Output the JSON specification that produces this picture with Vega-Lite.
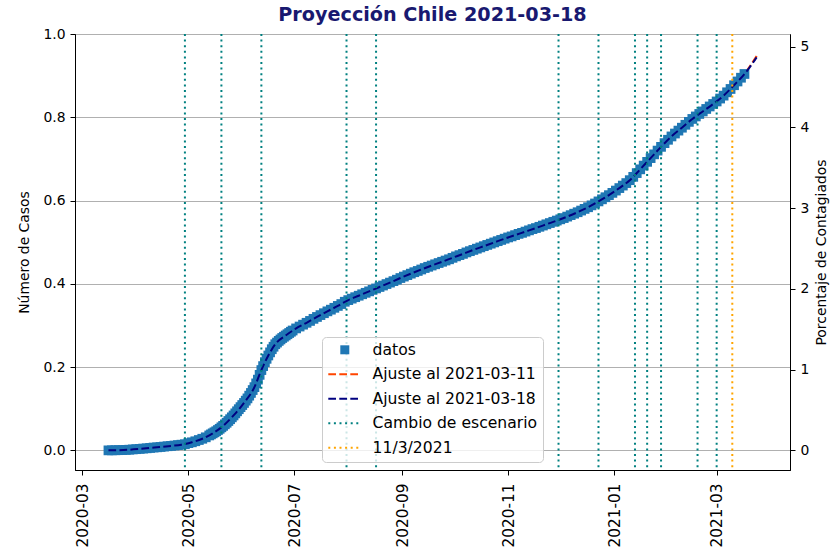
{
  "$schema": "https://vega.github.io/schema/vega-lite/v6.json",
  "width": 715,
  "height": 436,
  "autosize": {"type": "none"},
  "padding": {"left": 75, "top": 34, "right": 41, "bottom": 85},
  "title": {"text": "Proyección Chile 2021-03-18", "fontSize": 19.2, "fontWeight": "bold", "color": "#191970", "font": "DejaVu Sans", "anchor": "middle", "frame": "group", "baseline": "alphabetic", "offset": -13},
  "config": {
    "font": "DejaVu Sans",
    "view": {"stroke": "black", "strokeWidth": 1},
    "axis": {"labelFontSize": 13.9, "titleFontSize": 13.9, "labelColor": "black", "titleColor": "black", "tickColor": "black", "domainColor": "black", "tickSize": 5, "labelPadding": 5, "titleFontWeight": "normal", "labelFont": "DejaVu Sans", "titleFont": "DejaVu Sans", "domainWidth": 1, "tickWidth": 1}
  },
  "datasets": {
    "datos": [
      {"f":"2020-03-16","c":160},{"f":"2020-03-18","c":240},{"f":"2020-03-20","c":430},{"f":"2020-03-22","c":630},{"f":"2020-03-24","c":920},{"f":"2020-03-26","c":1310},{"f":"2020-03-28","c":1730},{"f":"2020-03-30","c":2450},
      {"f":"2020-04-01","c":3030},{"f":"2020-04-03","c":3740},{"f":"2020-04-05","c":4470},{"f":"2020-04-07","c":5120},{"f":"2020-04-09","c":5970},{"f":"2020-04-11","c":6930},{"f":"2020-04-13","c":7530},{"f":"2020-04-15","c":8270},{"f":"2020-04-17","c":9250},{"f":"2020-04-19","c":10090},{"f":"2020-04-21","c":10830},{"f":"2020-04-23","c":11810},{"f":"2020-04-25","c":12860},{"f":"2020-04-27","c":13810},{"f":"2020-04-29","c":14890},
      {"f":"2020-05-01","c":17500},{"f":"2020-05-03","c":19500},{"f":"2020-05-05","c":22000},{"f":"2020-05-07","c":25000},{"f":"2020-05-09","c":28000},{"f":"2020-05-11","c":31500},{"f":"2020-05-13","c":36000},{"f":"2020-05-14","c":38500},{"f":"2020-05-15","c":41000},{"f":"2020-05-16","c":43500},{"f":"2020-05-17","c":46000},{"f":"2020-05-18","c":49000},{"f":"2020-05-19","c":52000},{"f":"2020-05-20","c":55500},{"f":"2020-05-21","c":59000},{"f":"2020-05-22","c":62700},{"f":"2020-05-23","c":66500},{"f":"2020-05-24","c":70700},{"f":"2020-05-25","c":75000},{"f":"2020-05-26","c":79500},{"f":"2020-05-27","c":84000},{"f":"2020-05-28","c":89000},{"f":"2020-05-29","c":94000},{"f":"2020-05-30","c":99000},{"f":"2020-05-31","c":104000},
      {"f":"2020-06-01","c":109000},{"f":"2020-06-02","c":114000},{"f":"2020-06-03","c":119500},{"f":"2020-06-04","c":125000},{"f":"2020-06-05","c":131500},{"f":"2020-06-06","c":138000},{"f":"2020-06-07","c":145000},{"f":"2020-06-08","c":152000},{"f":"2020-06-09","c":161000},{"f":"2020-06-10","c":170000},{"f":"2020-06-11","c":181500},{"f":"2020-06-12","c":193000},{"f":"2020-06-13","c":202500},{"f":"2020-06-14","c":212000},{"f":"2020-06-15","c":220000},{"f":"2020-06-16","c":228000},{"f":"2020-06-17","c":235500},{"f":"2020-06-18","c":243000},{"f":"2020-06-19","c":249000},{"f":"2020-06-20","c":255000},{"f":"2020-06-21","c":259000},{"f":"2020-06-22","c":263000},{"f":"2020-06-23","c":266500},{"f":"2020-06-24","c":270000},{"f":"2020-06-25","c":273000},{"f":"2020-06-26","c":276000},{"f":"2020-06-27","c":279000},{"f":"2020-06-28","c":282000},{"f":"2020-06-29","c":285000},{"f":"2020-06-30","c":288000},
      {"f":"2020-07-02","c":293000},{"f":"2020-07-04","c":297500},{"f":"2020-07-06","c":302000},{"f":"2020-07-08","c":306500},{"f":"2020-07-10","c":311000},{"f":"2020-07-12","c":316000},{"f":"2020-07-14","c":320500},{"f":"2020-07-16","c":325000},{"f":"2020-07-18","c":329500},{"f":"2020-07-20","c":334000},{"f":"2020-07-22","c":338000},{"f":"2020-07-24","c":342500},{"f":"2020-07-26","c":347000},{"f":"2020-07-28","c":351500},{"f":"2020-07-30","c":357000},
      {"f":"2020-08-01","c":361000},{"f":"2020-08-03","c":364500},{"f":"2020-08-05","c":368000},{"f":"2020-08-07","c":371500},{"f":"2020-08-09","c":375000},{"f":"2020-08-11","c":378500},{"f":"2020-08-13","c":382000},{"f":"2020-08-15","c":385500},{"f":"2020-08-17","c":389000},{"f":"2020-08-19","c":392500},{"f":"2020-08-21","c":396000},{"f":"2020-08-23","c":399500},{"f":"2020-08-25","c":403000},{"f":"2020-08-27","c":406500},{"f":"2020-08-29","c":410000},{"f":"2020-08-31","c":414000},
      {"f":"2020-09-02","c":417500},{"f":"2020-09-04","c":421000},{"f":"2020-09-06","c":424500},{"f":"2020-09-08","c":428000},{"f":"2020-09-10","c":431000},{"f":"2020-09-12","c":434500},{"f":"2020-09-14","c":438000},{"f":"2020-09-16","c":441000},{"f":"2020-09-18","c":444000},{"f":"2020-09-20","c":447000},{"f":"2020-09-22","c":450000},{"f":"2020-09-24","c":453000},{"f":"2020-09-26","c":456000},{"f":"2020-09-28","c":459000},{"f":"2020-09-30","c":462500},
      {"f":"2020-10-02","c":466000},{"f":"2020-10-04","c":469000},{"f":"2020-10-06","c":472000},{"f":"2020-10-08","c":475500},{"f":"2020-10-10","c":478500},{"f":"2020-10-12","c":481500},{"f":"2020-10-14","c":484500},{"f":"2020-10-16","c":487500},{"f":"2020-10-18","c":490500},{"f":"2020-10-20","c":493500},{"f":"2020-10-22","c":496500},{"f":"2020-10-24","c":499500},{"f":"2020-10-26","c":502500},{"f":"2020-10-28","c":505500},{"f":"2020-10-30","c":508500},
      {"f":"2020-11-01","c":511500},{"f":"2020-11-03","c":514000},{"f":"2020-11-05","c":517000},{"f":"2020-11-07","c":520000},{"f":"2020-11-09","c":522500},{"f":"2020-11-11","c":525500},{"f":"2020-11-13","c":528500},{"f":"2020-11-15","c":531500},{"f":"2020-11-17","c":534000},{"f":"2020-11-19","c":537000},{"f":"2020-11-21","c":540000},{"f":"2020-11-23","c":543000},{"f":"2020-11-25","c":546000},{"f":"2020-11-27","c":549000},{"f":"2020-11-29","c":552000},
      {"f":"2020-12-01","c":555000},{"f":"2020-12-03","c":558000},{"f":"2020-12-05","c":561500},{"f":"2020-12-07","c":565000},{"f":"2020-12-09","c":568500},{"f":"2020-12-11","c":572000},{"f":"2020-12-13","c":576000},{"f":"2020-12-15","c":580000},{"f":"2020-12-17","c":584000},{"f":"2020-12-19","c":588500},{"f":"2020-12-21","c":593000},{"f":"2020-12-23","c":598000},{"f":"2020-12-25","c":603000},{"f":"2020-12-27","c":608000},{"f":"2020-12-29","c":613000},{"f":"2020-12-31","c":618500},
      {"f":"2021-01-02","c":624000},{"f":"2021-01-04","c":630000},{"f":"2021-01-06","c":636000},{"f":"2021-01-08","c":642000},{"f":"2021-01-10","c":649000},{"f":"2021-01-12","c":657000},{"f":"2021-01-14","c":666000},{"f":"2021-01-16","c":675000},{"f":"2021-01-18","c":684000},{"f":"2021-01-20","c":693000},{"f":"2021-01-22","c":702000},{"f":"2021-01-24","c":711000},{"f":"2021-01-26","c":720000},{"f":"2021-01-28","c":729000},{"f":"2021-01-30","c":738000},
      {"f":"2021-02-01","c":746000},{"f":"2021-02-03","c":754000},{"f":"2021-02-05","c":761000},{"f":"2021-02-07","c":768000},{"f":"2021-02-09","c":775000},{"f":"2021-02-11","c":782000},{"f":"2021-02-13","c":789000},{"f":"2021-02-15","c":796000},{"f":"2021-02-17","c":802000},{"f":"2021-02-19","c":808000},{"f":"2021-02-21","c":814000},{"f":"2021-02-23","c":820000},{"f":"2021-02-25","c":826000},{"f":"2021-02-27","c":832000},
      {"f":"2021-03-01","c":838000},{"f":"2021-03-03","c":845000},{"f":"2021-03-05","c":852000},{"f":"2021-03-07","c":860000},{"f":"2021-03-09","c":868000},{"f":"2021-03-11","c":877000},{"f":"2021-03-13","c":886000},{"f":"2021-03-15","c":895000},{"f":"2021-03-17","c":904000}
    ],
    "ajuste": [
      {"f":"2020-03-16","a11":200,"a18":200},{"f":"2020-03-22","a11":600,"a18":600},{"f":"2020-03-28","a11":1700,"a18":1700},{"f":"2020-04-03","a11":3700,"a18":3700},{"f":"2020-04-09","a11":6000,"a18":6000},{"f":"2020-04-15","a11":8300,"a18":8300},{"f":"2020-04-21","a11":10800,"a18":10800},{"f":"2020-04-27","a11":13800,"a18":13800},
      {"f":"2020-05-03","a11":19500,"a18":19500},{"f":"2020-05-09","a11":28000,"a18":28000},{"f":"2020-05-15","a11":41000,"a18":41000},{"f":"2020-05-21","a11":59000,"a18":59000},{"f":"2020-05-27","a11":84000,"a18":84000},
      {"f":"2020-06-02","a11":114000,"a18":114000},{"f":"2020-06-08","a11":152000,"a18":152000},{"f":"2020-06-12","a11":193000,"a18":193000},{"f":"2020-06-16","a11":228000,"a18":228000},{"f":"2020-06-20","a11":255000,"a18":255000},{"f":"2020-06-26","a11":276000,"a18":276000},
      {"f":"2020-07-02","a11":293000,"a18":293000},{"f":"2020-07-08","a11":306500,"a18":306500},{"f":"2020-07-14","a11":320500,"a18":320500},{"f":"2020-07-20","a11":334000,"a18":334000},{"f":"2020-07-26","a11":347000,"a18":347000},
      {"f":"2020-08-01","a11":361000,"a18":361000},{"f":"2020-08-07","a11":371500,"a18":371500},{"f":"2020-08-13","a11":382000,"a18":382000},{"f":"2020-08-19","a11":392500,"a18":392500},{"f":"2020-08-25","a11":403000,"a18":403000},{"f":"2020-08-31","a11":414000,"a18":414000},
      {"f":"2020-09-06","a11":424500,"a18":424500},{"f":"2020-09-12","a11":434500,"a18":434500},{"f":"2020-09-18","a11":444000,"a18":444000},{"f":"2020-09-24","a11":453000,"a18":453000},{"f":"2020-09-30","a11":462500,"a18":462500},
      {"f":"2020-10-06","a11":472000,"a18":472000},{"f":"2020-10-12","a11":481500,"a18":481500},{"f":"2020-10-18","a11":490500,"a18":490500},{"f":"2020-10-24","a11":499500,"a18":499500},{"f":"2020-10-30","a11":508500,"a18":508500},
      {"f":"2020-11-05","a11":517000,"a18":517000},{"f":"2020-11-11","a11":525500,"a18":525500},{"f":"2020-11-17","a11":534000,"a18":534000},{"f":"2020-11-23","a11":543000,"a18":543000},{"f":"2020-11-29","a11":552000,"a18":552000},
      {"f":"2020-12-05","a11":561500,"a18":561500},{"f":"2020-12-11","a11":572000,"a18":572000},{"f":"2020-12-17","a11":584000,"a18":584000},{"f":"2020-12-23","a11":598000,"a18":598000},{"f":"2020-12-29","a11":613000,"a18":613000},
      {"f":"2021-01-04","a11":630000,"a18":630000},{"f":"2021-01-10","a11":649000,"a18":649000},{"f":"2021-01-16","a11":675000,"a18":675000},{"f":"2021-01-22","a11":702000,"a18":702000},{"f":"2021-01-28","a11":729000,"a18":729000},
      {"f":"2021-02-03","a11":754000,"a18":754000},{"f":"2021-02-09","a11":775000,"a18":775000},{"f":"2021-02-15","a11":796000,"a18":796000},{"f":"2021-02-21","a11":814000,"a18":814000},{"f":"2021-02-27","a11":832000,"a18":832000},
      {"f":"2021-03-05","a11":852000,"a18":852000},{"f":"2021-03-11","a11":877000,"a18":877000},{"f":"2021-03-17","a11":905000,"a18":904000},{"f":"2021-03-20","a11":922000,"a18":920000},{"f":"2021-03-24","a11":947000,"a18":944000}
    ],
    "cambios": [
      {"f":"2020-04-29"},{"f":"2020-05-20"},{"f":"2020-06-12"},{"f":"2020-07-31"},{"f":"2020-08-17"},{"f":"2020-11-30"},{"f":"2020-12-23"},{"f":"2021-01-13"},{"f":"2021-01-20"},{"f":"2021-01-28"},{"f":"2021-02-18"},{"f":"2021-03-01"}
    ],
    "fecha": [{"f":"2021-03-10"}]
  },
  "layer": [
    {
      "encoding": {
        "x": {"field": "f", "type": "temporal", "title": null,
          "scale": {"type": "utc", "domain": [{"year": 2020, "month": 2, "date": 25, "hours": 18, "utc": true}, {"year": 2021, "month": 4, "date": 12, "hours": 5, "utc": true}]},
          "axis": {"title": null, "labelExpr": "utcFormat(datum.value, '%Y-%m')", "labelAngle": 270, "labelAlign": "right", "labelBaseline": "middle", "labelFontSize": 15.3, "labelPadding": 8, "grid": false,
            "values": [{"year": 2020, "month": 3, "date": 1, "utc": true}, {"year": 2020, "month": 5, "date": 1, "utc": true}, {"year": 2020, "month": 7, "date": 1, "utc": true}, {"year": 2020, "month": 9, "date": 1, "utc": true}, {"year": 2020, "month": 11, "date": 1, "utc": true}, {"year": 2021, "month": 1, "date": 1, "utc": true}, {"year": 2021, "month": 3, "date": 1, "utc": true}]}}
      },
      "layer": [
        {
          "data": {"name": "ajuste"},
          "mark": {"type": "line", "strokeWidth": 2, "strokeDash": [7.7, 3.3], "interpolate": "monotone"},
          "encoding": {
            "y": {"field": "a11", "type": "quantitative", "title": "Número de Casos",
              "scale": {"domain": [-47000, 1000000], "nice": false, "zero": false},
              "axis": {"values": [0, 200000, 400000, 600000, 800000, 1000000], "labelExpr": "format(datum.value/1e6,'.1f')", "grid": true, "gridColor": "#b0b0b0", "gridWidth": 1, "titlePadding": 11}},
            "color": {"datum": "Ajuste al 2021-03-11", "type": "nominal",
              "scale": {"domain": ["datos", "Ajuste al 2021-03-11", "Ajuste al 2021-03-18", "Cambio de escenario", "11/3/2021"], "range": ["#1f77b4", "#ff4500", "#000080", "#008080", "#ffa500"]},
              "legend": {
                "orient": "none", "legendX": 247, "legendY": 303, "title": null,
                "fillColor": "rgba(255,255,255,0.8)", "strokeColor": "#cccccc", "cornerRadius": 4, "padding": 5,
                "labelFontSize": 15.6, "labelFont": "DejaVu Sans", "labelColor": "black", "labelOffset": 20, "labelLimit": 300,
                "symbolType": "stroke", "symbolSize": 100, "symbolStrokeWidth": 2, "symbolOffset": 10, "rowPadding": 7.5,
                "encode": {"symbols": {"update": {
                  "shape": {"signal": "datum.value === 'datos' ? 'square' : 'stroke'"},
                  "size": {"signal": "datum.value === 'datos' ? 81 : 1089"},
                  "fill": {"signal": "datum.value === 'datos' ? '#1f77b4' : 'transparent'"},
                  "strokeWidth": {"signal": "datum.value === 'datos' ? 0 : 2"},
                  "strokeDash": {"signal": "indexof(datum.value, 'Ajuste') === 0 ? [7.7, 3.3] : [2, 3.6]"},
                  "opacity": {"value": 1}
                }}}
              }}
          }
        },
        {
          "data": {"name": "datos"},
          "mark": {"type": "square", "size": 95, "opacity": 1},
          "encoding": {
            "y": {"field": "c", "type": "quantitative", "title": "Número de Casos"},
            "color": {"datum": "datos"}
          }
        },
        {
          "data": {"name": "ajuste"},
          "mark": {"type": "line", "strokeWidth": 2, "strokeDash": [7.7, 3.3], "interpolate": "monotone"},
          "encoding": {
            "y": {"field": "a18", "type": "quantitative", "title": "Número de Casos"},
            "color": {"datum": "Ajuste al 2021-03-18"}
          }
        },
        {
          "data": {"name": "cambios"},
          "mark": {"type": "rule", "strokeWidth": 2, "strokeDash": [2, 3.6]},
          "encoding": {
            "color": {"datum": "Cambio de escenario"}
          }
        },
        {
          "data": {"name": "fecha"},
          "mark": {"type": "rule", "strokeWidth": 2, "strokeDash": [2, 3.6]},
          "encoding": {
            "color": {"datum": "11/3/2021"}
          }
        },
        {
          "data": {"values": [{"t": "1e6"}]},
          "mark": {"type": "text", "align": "left", "baseline": "alphabetic", "dx": 2, "dy": -5, "fontSize": 13.9, "font": "DejaVu Sans", "color": "black"},
          "encoding": {
            "x": {"datum": {"year": 2020, "month": 2, "date": 25, "hours": 18, "utc": true}, "type": "temporal"},
            "y": {"datum": 1000000, "type": "quantitative"},
            "text": {"field": "t"}
          }
        }
      ]
    },
    {
      "data": {"values": [{"p": 0}]},
      "mark": {"type": "point", "opacity": 0},
      "encoding": {
        "y": {"field": "p", "type": "quantitative",
          "scale": {"domain": [-0.2425, 5.155], "nice": false, "zero": false},
          "axis": {"orient": "right", "title": "Porcentaje de Contagiados", "values": [0, 1, 2, 3, 4, 5], "format": "d", "grid": false, "titleAngle": 270, "titleBaseline": "top", "titlePadding": 6}}
      }
    }
  ],
  "resolve": {"scale": {"y": "independent"}}
}
